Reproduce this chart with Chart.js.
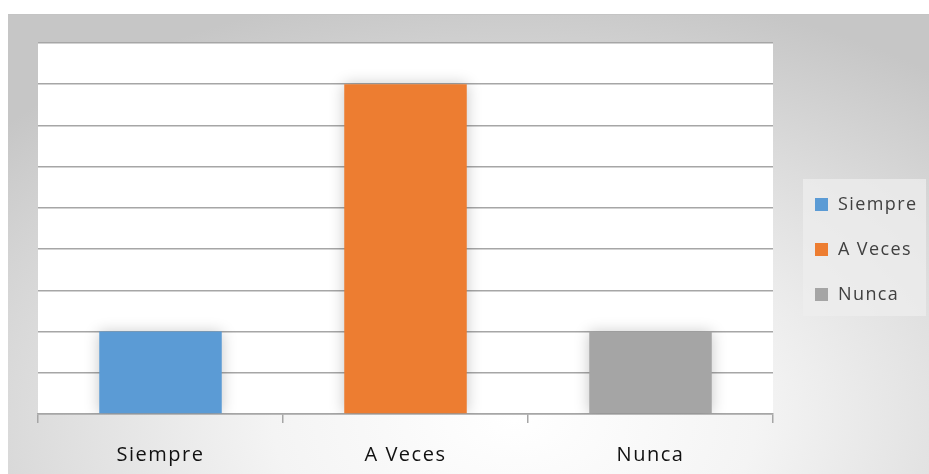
<!DOCTYPE html>
<html>
<head>
<meta charset="utf-8">
<script src="https://cdn.jsdelivr.net/npm/chart.js@4"></script>
<style>
  body { margin:0; background:#fff; width:929px; height:474px; overflow:hidden; position:relative; }
  #marco { position:absolute; left:8px; top:14px; width:921px; height:460px;
    border-top:1px solid #c4c4c4;
    background: radial-gradient(ellipse 75% 95% at 55% 88%, #ffffff 0%, #f4f4f4 35%, #dcdcdc 70%, #c6c6c6 100%); }
  #caja { position:absolute; left:0; top:0; width:921px; height:460px; }
  #leyenda { position:absolute; left:803px; top:179px; width:123px; height:137px;
    background:rgba(238,238,238,0.75); font-family:"Open Sans", sans-serif; font-size:18px; color:#404040; }
  #leyenda div { position:absolute; left:12px; height:24px; line-height:24px; white-space:nowrap; letter-spacing:1.4px; }
  #leyenda span { display:inline-block; width:13px; height:13px; margin-right:10px; vertical-align:-1px; }
</style>
</head>
<body>
<div id="marco"><div id="caja"><canvas id="grafico"></canvas></div></div>
<div id="leyenda"></div>
<script>
// datos del grafico
var categorias = ["Siempre", "A Veces", "Nunca"];
var valores = [2, 8, 2];
var colores = ["#5B9BD5", "#ED7D31", "#A5A5A5"];

// leyenda a mano (derecha)
var leyenda = document.getElementById('leyenda');
for (let i = 0; i < categorias.length; i++) {
	var d = document.createElement('div');
	d.style.top = (12 + i * 45) + 'px';
	d.innerHTML = '<span style="background:' + colores[i] + '"></span>' + categorias[i];
	leyenda.appendChild(d);
}

// fondo blanco del area y sombra de barras
const fondoBlanco = {
	id: 'fondoBlanco',
	beforeDraw: function(chart) {
		var a = chart.chartArea;
		chart.ctx.save();
		chart.ctx.fillStyle = '#ffffff';
		chart.ctx.fillRect(a.left, a.top, a.right - a.left, a.bottom - a.top);
		chart.ctx.restore();
		// texto un poco espaciado, como en el original
		chart.ctx.letterSpacing = '1.5px';
	},
	beforeDatasetDraw: function(chart) {
		chart.ctx.save();
		chart.ctx.shadowColor = 'rgba(0,0,0,0.22)';
		chart.ctx.shadowBlur = 14;
	},
	afterDatasetDraw: function(chart) {
		chart.ctx.restore();
	}
};

const ctx = document.getElementById('grafico').getContext('2d');
const grafico = new Chart(ctx, {
	type: 'bar',
	data: {
		labels: categorias,
		datasets: [{
			data: valores,
			backgroundColor: colores,
			barPercentage: 0.5,
			categoryPercentage: 1
		}]
	},
	options: {
		responsive: true,
		maintainAspectRatio: false,
		animation: false,
		layout: { padding: { left: 30, top: 28, right: 156, bottom: 0 } },
		plugins: {
			legend: { display: false },
			tooltip: { enabled: false }
		},
		scales: {
			x: {
				grid: { offset: true, drawOnChartArea: false, color: '#a6a6a6', lineWidth: 1.5, tickLength: 9 },
				border: { color: '#a6a6a6', width: 1.5 },
				ticks: { color: '#111', padding: 20, font: { family: 'Open Sans', size: 20 } },
				afterFit: function(s) { s.height = 61; }
			},
			y: {
				min: 0, max: 9,
				ticks: { display: false, stepSize: 1 },
				grid: { color: '#a6a6a6', lineWidth: 1.5, drawTicks: false },
				border: { display: false },
				afterFit: function(s) { s.width = 0; }
			}
		}
	},
	plugins: [fondoBlanco]
});
</script>
</body>
</html>
